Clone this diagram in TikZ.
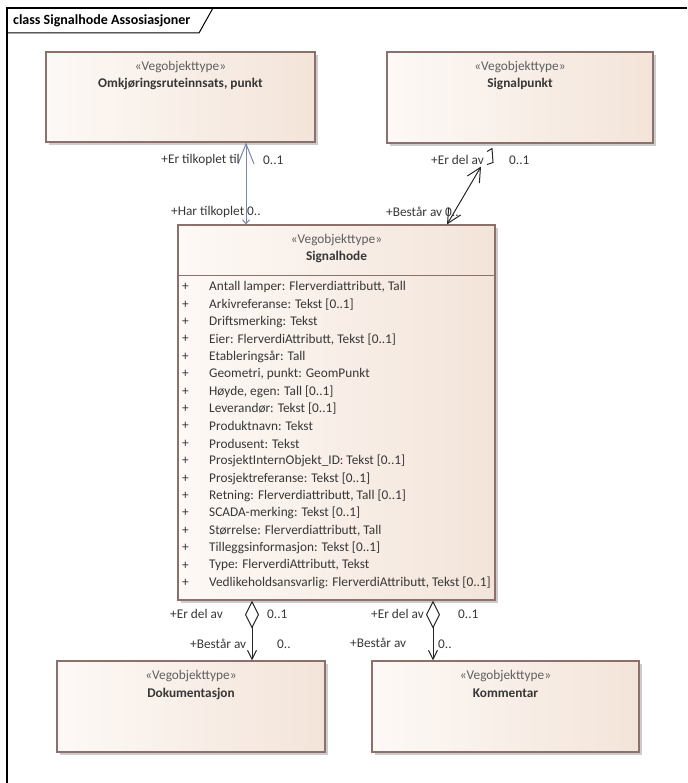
\documentclass[tikz,border=0pt]{standalone}
\usepackage{fontspec}
\setmainfont{Carlito}
\usepackage{tikz}
\usetikzlibrary{arrows.meta,shapes,calc,shadows}
\usetikzlibrary{positioning}
\definecolor{ramme}{RGB}{140,112,108}
\definecolor{tekst}{RGB}{55,55,55}
\definecolor{lysfarge}{RGB}{253,249,246}
\definecolor{morkfarge}{RGB}{243,228,217}
\definecolor{blaagraa}{RGB}{120,135,165}
\tikzset{
    klasse/.style={
           rectangle,
           draw=ramme, line width=1.1pt,
           left color=lysfarge, right color=morkfarge,
           drop shadow={shadow xshift=3pt, shadow yshift=-3pt, fill=black!20, opacity=1},
           inner sep=0pt,
           },
    stereo/.style={
           text=tekst!80,
           font=\fontsize{13.3}{15}\selectfont,
           inner sep=0pt,
           },
    navn/.style={
           text=tekst,
           font=\fontsize{13.3}{15}\selectfont\bfseries,
           inner sep=0pt,
           },
    attr/.style={
           text=tekst,
           font=\fontsize{13.3}{15}\selectfont,
           anchor=west,
           inner sep=0pt,
           },
    rolle/.style={
           text=tekst,
           font=\fontsize{13.3}{15}\selectfont,
           inner sep=0pt,
           },
    pil/.style={
           line width=1pt,
           draw=black!85,
           },
}

\begin{document}
\begin{tikzpicture}[x=1pt,y=-1pt]
\useasboundingbox (0,0) rectangle (687,783);
% ramme
\draw[line width=1.2pt] (7,783) -- (7,8) -- (687,8);
\draw[line width=1pt] (7,33) -- (199,33) -- (213,8);
\node[anchor=west, inner sep=0pt, font=\fontsize{14}{16}\selectfont\bfseries] (tittel) at (13,21) {class Signalhode Assosiasjoner};

% klasser
\node[klasse, minimum width=269pt, minimum height=90pt] (omk) at (180.5,97) {};
\node[klasse, minimum width=266pt, minimum height=91pt] (sigp) at (520,97.5) {};
\node[klasse, minimum width=317pt, minimum height=375pt] (sigh) at (336.5,412.5) {};
\node[klasse, minimum width=268pt, minimum height=91pt] (dok) at (191,706.5) {};
\node[klasse, minimum width=267pt, minimum height=91pt] (kom) at (505.5,706.5) {};

\foreach \k/\n in {omk/{Omkjøringsruteinnsats, punkt}, sigp/Signalpunkt, sigh/Signalhode, dok/Dokumentasjon, kom/Kommentar} {
    \node[stereo] at ($(\k.north)+(0,16)$) {«Vegobjekttype»};
    \node[navn] at ($(\k.north)+(0,33)$) {\n};
}
\draw[draw=ramme, line width=1pt] ($(sigh.north west)+(0,51)$) -- ($(sigh.north east)+(0,51)$);

% attributter
\foreach \a [count=\i from 0] in {
    {Antall lamper: Flerverdiattributt, Tall},
    {Arkivreferanse: Tekst [0..1]},
    {Driftsmerking: Tekst},
    {Eier: FlerverdiAttributt, Tekst [0..1]},
    {Etableringsår: Tall},
    {Geometri, punkt: GeomPunkt},
    {Høyde, egen: Tall [0..1]},
    {Leverandør: Tekst [0..1]},
    {Produktnavn: Tekst},
    {Produsent: Tekst},
    {ProsjektInternObjekt\_ID: Tekst [0..1]},
    {Prosjektreferanse: Tekst [0..1]},
    {Retning: Flerverdiattributt, Tall [0..1]},
    {SCADA-merking: Tekst [0..1]},
    {Størrelse: Flerverdiattributt, Tall},
    {Tilleggsinformasjon: Tekst [0..1]},
    {Type: FlerverdiAttributt, Tekst},
    {Vedlikeholdsansvarlig: FlerverdiAttributt, Tekst [0..1]}} {
    \node[attr] at (182,287+17.4*\i) {+};
    \node[attr] at (209,287+17.4*\i) {\a};
}

% assosiasjoner
\draw[line width=1pt, draw=blaagraa, {Straight Barb[length=20pt,width=16pt]}-{Straight Barb[length=4pt,width=7pt]}]
    ($(omk.south)+(65.5,0)$) -- ($(sigh.north)+(-90.5,0)$);
\coordinate (delav) at ($(sigp.south)+(-39,23)$);
\draw[pil, {Straight Barb[length=14pt,width=14pt]}-{Straight Barb[length=14pt,width=14pt]}]
    ($(sigh.north)+(110.5,0)$) -- (delav);
\draw[pil] ($(sigp.south)+(-33,8)$) -- ($(sigp.south)+(-28,5)$) -- ($(sigp.south)+(-27,19)$) -- ($(sigp.south)+(-33,21)$);
\draw[pil, {Diamond[open,length=28pt,width=14pt]}-{Straight Barb[length=9pt,width=9pt]}]
    ($(sigh.south)+(-84.5,0)$) -- ($(dok.north)+(61,0)$);
\draw[pil, {Diamond[open,length=28pt,width=14pt]}-{Straight Barb[length=9pt,width=9pt]}]
    ($(sigh.south)+(96.5,0)$) -- ($(kom.north)+(-72.5,0)$);

% roller
\node[rolle, anchor=east] at (240,160) {+Er tilkoplet til};
\node[rolle, anchor=west] at (263,160) {0..1};
\node[rolle, anchor=west] at (171,212) {+Har tilkoplet 0..};
\node[rolle, anchor=east] at (484,160) {+Er del av};
\node[rolle, anchor=west] at (509,160) {0..1};
\node[rolle, anchor=west] at (386,212) {+Består av 0..};
\node[rolle, anchor=west] at (170,614) {+Er del av};
\node[rolle, anchor=west] at (267,614) {0..1};
\node[rolle, anchor=west] at (190,644) {+Består av};
\node[rolle, anchor=west] at (277,644) {0..};
\node[rolle, anchor=west] at (371,614) {+Er del av};
\node[rolle, anchor=west] at (458,614) {0..1};
\node[rolle, anchor=west] at (350,643) {+Består av};
\node[rolle, anchor=west] at (438,644) {0..};
\end{tikzpicture}
\end{document}
